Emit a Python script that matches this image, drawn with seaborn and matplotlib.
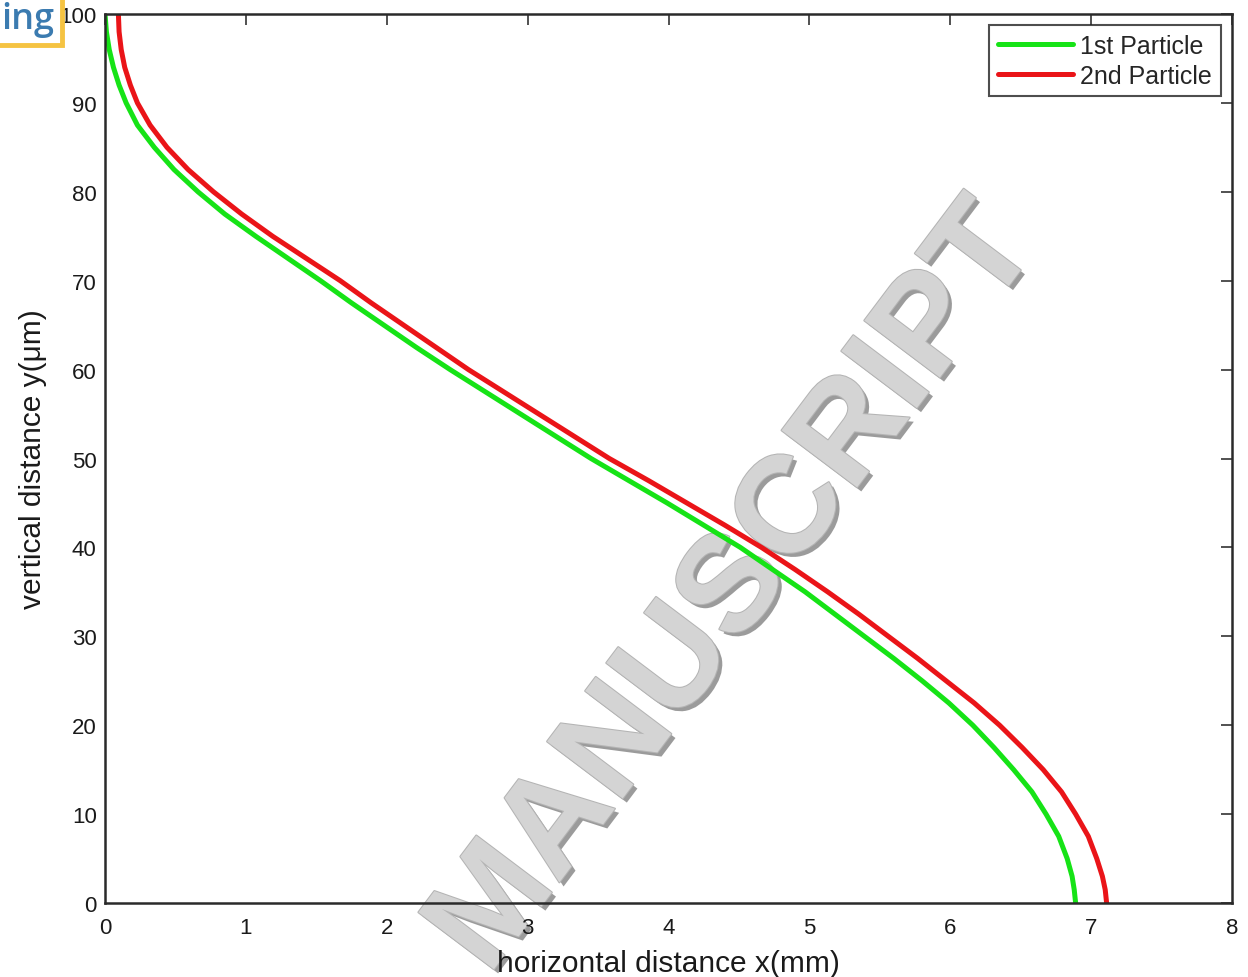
import numpy as np
import pandas as pd
import matplotlib
matplotlib.use("Agg")
import matplotlib.pyplot as plt
import seaborn as sns
from matplotlib import patheffects as pe
from matplotlib.patches import Rectangle

# ---- data ----
y_levels = [100, 98, 96, 94, 92, 90, 87.5, 85, 82.5, 80, 77.5, 75, 72.5, 70,
            67.5, 65, 62.5, 60, 57.5, 55, 52.5, 50, 47.5, 45, 42.5, 40, 37.5,
            35, 32.5, 30, 27.5, 25, 22.5, 20, 17.5, 15, 12.5, 10, 7.5, 5, 3,
            1.5, 0]
x_first = [0.00, 0.01, 0.03, 0.06, 0.10, 0.15, 0.23, 0.35, 0.49, 0.66, 0.85,
           1.07, 1.30, 1.53, 1.75, 1.98, 2.21, 2.45, 2.70, 2.95, 3.20, 3.45,
           3.72, 3.99, 4.25, 4.51, 4.74, 4.97, 5.18, 5.39, 5.60, 5.80, 5.99,
           6.16, 6.31, 6.45, 6.58, 6.68, 6.77, 6.83, 6.865, 6.88, 6.89]
x_second = [0.095, 0.10, 0.115, 0.14, 0.18, 0.23, 0.32, 0.44, 0.59, 0.77, 0.97,
            1.19, 1.43, 1.67, 1.89, 2.12, 2.35, 2.58, 2.83, 3.08, 3.33, 3.58,
            3.86, 4.13, 4.40, 4.66, 4.90, 5.13, 5.35, 5.56, 5.77, 5.97, 6.17,
            6.35, 6.51, 6.66, 6.79, 6.89, 6.98, 7.04, 7.08, 7.10, 7.11]
series_names = ["1st Particle", "2nd Particle"]
x_ticks = [0, 1, 2, 3, 4, 5, 6, 7, 8]
y_ticks = [0, 10, 20, 30, 40, 50, 60, 70, 80, 90, 100]

sns.set_theme(style="white")
plt.rcParams["font.family"] = ["Liberation Sans", "DejaVu Sans"]

W, H = 1248, 978
fig = plt.figure(figsize=(W / 100, H / 100), dpi=100)
fig.patch.set_facecolor("white")
ax = fig.add_axes([105 / W, 1 - 904 / H, (1232 - 105) / W, (904 - 15) / H])
ax.patch.set_alpha(0)

df = pd.DataFrame({
    "x": x_first + x_second,
    "y": y_levels + y_levels,
    "series": [series_names[0]] * len(y_levels) + [series_names[1]] * len(y_levels),
})
sns.lineplot(data=df, x="x", y="y", hue="series", palette=["#16e316", "#ea1418"],
             sort=False, estimator=None, linewidth=3.6, ax=ax)
for ln in ax.get_lines():
    ln.set_solid_joinstyle("round")
    ln.set_solid_capstyle("round")

ax.set_xlim(0, 8)
ax.set_ylim(0, 100)
ax.set_xticks(x_ticks)
ax.set_yticks(y_ticks)
ax.tick_params(direction="in", length=8, width=1.2, color="#333333",
               top=True, right=True, labelsize=16, labelcolor="#1a1a1a")
ax.tick_params(axis="x", pad=10)
ax.tick_params(axis="y", pad=6)
for s in ax.spines.values():
    s.set_color("#2a2a2a")
    s.set_linewidth(1.8)

ax.set_xlabel("horizontal distance x(mm)", fontsize=21.5, color="#1a1a1a", labelpad=8)
ax.set_ylabel("vertical distance y(μm)", fontsize=21.5, color="#1a1a1a", labelpad=9)

leg = ax.legend(loc="upper right", fontsize=18, handlelength=3.0, frameon=True,
                fancybox=False, borderaxespad=0.45, borderpad=0.35,
                labelspacing=0.22, handletextpad=0.3, title=None)
leg.get_frame().set_edgecolor("#222222")
leg.get_frame().set_linewidth(1.5)
for line in leg.get_lines():
    line.set_linewidth(3.6)

# watermark behind everything
fig.text(736 / W, 1 - 590 / H, "MANUSCRIPT", rotation=53, fontsize=99,
         fontweight="bold", color="#d4d4d4", ha="center", va="center",
         zorder=-5, rotation_mode="anchor",
         path_effects=[pe.withSimplePatchShadow(offset=(3, -3),
                                                shadow_rgbFace="#8a8a8a", alpha=0.85),
                       pe.Stroke(linewidth=1.5, foreground="#b4b4b4"),
                       pe.Normal()])

# top-left fragment box
fig.add_artist(Rectangle((-0.02, 1 - 46 / H), 0.02 + 62 / W, 46 / H + 0.02,
                         transform=fig.transFigure, fill=False,
                         edgecolor="#f5c342", linewidth=3.5, clip_on=False))
fig.text(1 / W, 1 - 29 / H, "ing", fontsize=26, color="#3b7bb0",
         family=["Open Sans", "DejaVu Sans"], fontweight="semibold",
         ha="left", va="baseline")

fig.savefig("out.png", dpi=100)
